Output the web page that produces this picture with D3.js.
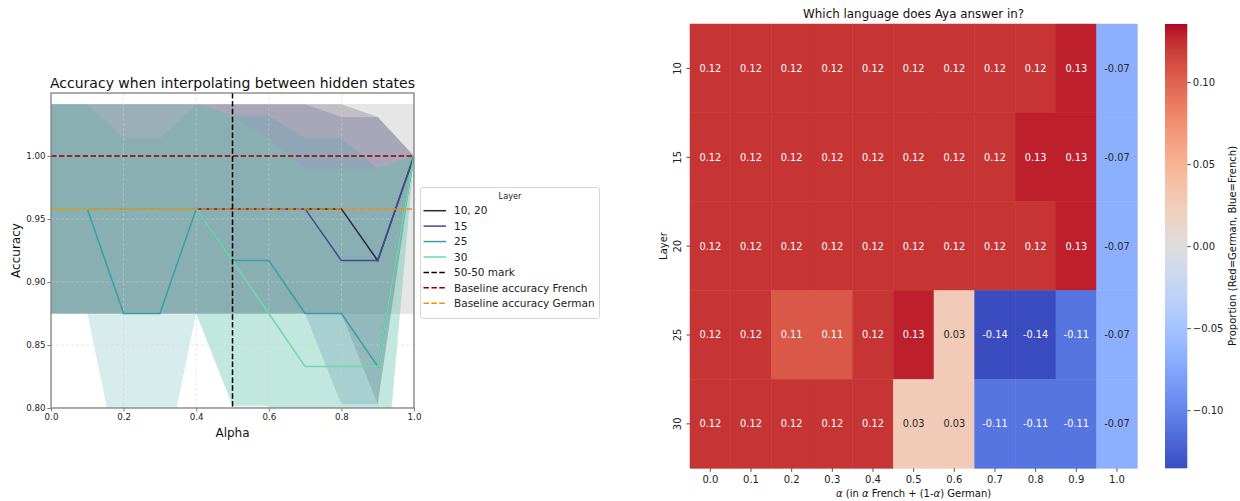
<!DOCTYPE html>
<html><head><meta charset="utf-8">
<script src="https://cdn.jsdelivr.net/npm/d3@7"></script>
<style>body{margin:0;background:#fff}svg{display:block;font-family:"DejaVu Sans",sans-serif}</style>
</head><body><svg id="c" width="1240" height="501"></svg>
<script>
// ---------- Left chart data ----------
const alphaVals = [0,0.1,0.2,0.3,0.4,0.5,0.6,0.7,0.8,0.9,1.0];
const xTicksLeft = [0,0.2,0.4,0.6,0.8,1.0];
const yTicksLeft = [0.80,0.85,0.90,0.95,1.00];
const seriesNames = ["10, 20","15","25","30"];
const seriesColors = ["#2c2343","#414c8e","#36a0a7","#70d8ab"];
const mean1020 = [0.958,0.958,0.958,0.958,0.958,0.958,0.958,0.958,0.958,0.917,1.0];
const std1020  = [0.083,0.083,0.083,0.083,0.083,0.083,0.083,0.083,0.083,0.114,0];
const mean15   = [0.958,0.958,0.958,0.958,0.958,0.958,0.958,0.958,0.917,0.917,1.0];
const std15    = [0.083,0.083,0.083,0.083,0.083,0.083,0.083,0.083,0.114,0.114,0];
const mean25   = [0.958,0.958,0.875,0.875,0.958,0.917,0.917,0.875,0.875,0.833,1.0];
const std25    = [0.083,0.083,0.139,0.139,0.083,0.115,0.115,0.139,0.139,0.157,0];
const mean30   = [0.958,0.958,0.958,0.958,0.958,0.917,0.875,0.833,0.833,0.833,1.0];
const std30    = [0.083,0.083,0.083,0.083,0.083,0.115,0.139,0.157,0.157,0.157,0];
const baselineFrench = 1.0;
const baselineGerman = 0.958;
const baselineGermanStd = 0.0833;
const midMark = 0.5;
const legendLabels = ["10, 20","15","25","30","50-50 mark","Baseline accuracy French","Baseline accuracy German"];

// ---------- Heatmap data ----------
const layers = ["10","15","20","25","30"];
const hmAlphas = ["0.0","0.1","0.2","0.3","0.4","0.5","0.6","0.7","0.8","0.9","1.0"];
const row10 = [0.122,0.122,0.122,0.122,0.122,0.122,0.122,0.122,0.122,0.129,-0.068];
const row15 = [0.122,0.122,0.122,0.122,0.122,0.122,0.122,0.122,0.129,0.129,-0.068];
const row20 = [0.122,0.122,0.122,0.122,0.122,0.122,0.122,0.122,0.122,0.129,-0.068];
const row25 = [0.122,0.122,0.106,0.106,0.122,0.129,0.026,-0.1354,-0.1354,-0.11,-0.068];
const row30 = [0.122,0.122,0.122,0.122,0.122,0.026,0.026,-0.11,-0.11,-0.11,-0.068];
const cbTicks = [0.10,0.05,0.00,-0.05,-0.10];

// coolwarm colormap (Moreland)
const cwT = d3.range(33).map(i=>i/32);
const cwC = ["#3b4cc0","#445acc","#4d68d7","#5775e1","#6282ea","#6c8ef1","#779af7","#82a5fb","#8db0fe","#98b9ff","#a3c2ff","#aec9fd","#b8d0f9","#c2d5f4","#ccd9ee","#d5dbe6","#dddddd","#e5d8d1","#ecd3c5","#f1ccb9","#f5c4ad","#f7bba0","#f7b194","#f7a687","#f49a7b","#f18d6f","#ec7f63","#e57058","#de604d","#d55042","#cb3e38","#c0282f","#b40426"];
const cw = d3.scaleLinear().domain(cwT).range(cwC).interpolate(d3.interpolateRgb).clamp(true);

const svg = d3.select("#c");

// ================= LEFT CHART =================
const xL = d3.scaleLinear([0,1],[51,414]);
const yL = d3.scaleLinear([0.8,1.05],[408,93]);
svg.append("defs").append("clipPath").attr("id","clipL").append("rect")
  .attr("x",51).attr("y",93).attr("width",363).attr("height",315);
const gL = svg.append("g");
const plot = gL.append("g").attr("clip-path","url(#clipL)");

// baseline German std band
plot.append("rect").attr("x",xL(0)).attr("width",xL(1)-xL(0))
  .attr("y",yL(baselineGerman+baselineGermanStd)).attr("height",yL(baselineGerman-baselineGermanStd)-yL(baselineGerman+baselineGermanStd))
  .attr("fill","#808080").attr("fill-opacity",0.2);

const series = [[mean1020,std1020],[mean15,std15],[mean25,std25],[mean30,std30]];
const area = d3.area().x(d=>xL(d.a)).y0(d=>yL(d.m-d.s)).y1(d=>yL(d.m+d.s));
series.forEach((s,i)=>{
  const data = alphaVals.map((a,j)=>({a,m:s[0][j],s:s[1][j]}));
  plot.append("path").datum(data).attr("d",area).attr("fill",seriesColors[i]).attr("fill-opacity",0.2);
});
// grid
xTicksLeft.forEach(t=>plot.append("line").attr("x1",xL(t)).attr("x2",xL(t)).attr("y1",93).attr("y2",408)
  .attr("stroke","#d0d0d0").attr("stroke-opacity",0.6).attr("stroke-width",0.8).attr("stroke-dasharray","3,2"));
yTicksLeft.forEach(t=>plot.append("line").attr("y1",yL(t)).attr("y2",yL(t)).attr("x1",51).attr("x2",414)
  .attr("stroke","#d0d0d0").attr("stroke-opacity",0.6).attr("stroke-width",0.8).attr("stroke-dasharray","3,2"));
// mean lines
const line = d3.line().x(d=>xL(d.a)).y(d=>yL(d.m));
series.forEach((s,i)=>{
  const data = alphaVals.map((a,j)=>({a,m:s[0][j]}));
  plot.append("path").datum(data).attr("d",line).attr("fill","none").attr("stroke",seriesColors[i]).attr("stroke-width",1.5);
});
// baselines
plot.append("line").attr("x1",51).attr("x2",414).attr("y1",yL(baselineFrench)).attr("y2",yL(baselineFrench))
  .attr("stroke","#8b0000").attr("stroke-width",1.5).attr("stroke-dasharray","5.5,2.4");
plot.append("line").attr("x1",51).attr("x2",414).attr("y1",yL(baselineGerman)).attr("y2",yL(baselineGerman))
  .attr("stroke","#ff8c00").attr("stroke-width",1.5).attr("stroke-dasharray","5.5,2.4");
plot.append("line").attr("x1",xL(midMark)).attr("x2",xL(midMark)).attr("y1",93).attr("y2",408)
  .attr("stroke","#000").attr("stroke-width",1.5).attr("stroke-dasharray","5.5,2.4");

// axes
const axB = gL.append("g").attr("transform","translate(0,408)")
  .call(d3.axisBottom(xL).tickValues(xTicksLeft).tickFormat(d3.format(".1f")).tickSizeOuter(0).tickSize(3.5));
const axLft = gL.append("g").attr("transform","translate(51,0)")
  .call(d3.axisLeft(yL).tickValues(yTicksLeft).tickFormat(d3.format(".2f")).tickSizeOuter(0).tickSize(3.5));
[axB,axLft].forEach(a=>{
  a.select(".domain").remove();
  a.selectAll(".tick line").attr("stroke","#808080").attr("stroke-width",1);
  a.selectAll(".tick text").attr("fill","#222").attr("font-size","8.7px").attr("font-family","DejaVu Sans");
});
axB.selectAll(".tick text").attr("dy","0.95em").attr("y",3.5);
axLft.selectAll(".tick text").attr("x",-5.5);
// frame
gL.append("rect").attr("x",51).attr("y",93).attr("width",363).attr("height",315)
  .attr("fill","none").attr("stroke","#808080").attr("stroke-width",1.3);

gL.append("text").attr("x",232.5).attr("y",88).attr("text-anchor","middle").attr("font-size","14px").attr("fill","#111")
  .text("Accuracy when interpolating between hidden states");
gL.append("text").attr("x",232.5).attr("y",436.5).attr("text-anchor","middle").attr("font-size","12px").attr("fill","#111").text("Alpha");
gL.append("text").attr("transform","translate(19.5,250.5) rotate(-90)").attr("text-anchor","middle").attr("font-size","12px").attr("fill","#111").text("Accuracy");

// legend
const lg = gL.append("g");
lg.append("rect").attr("x",420.5).attr("y",187.5).attr("width",179).attr("height",131).attr("rx",2.5)
  .attr("fill","#fff").attr("fill-opacity",0.8).attr("stroke","#cccccc").attr("stroke-width",0.8);
lg.append("text").attr("x",510).attr("y",199).attr("text-anchor","middle").attr("font-size","8.2px").attr("fill","#222").text("Layer");
const legColors = seriesColors.concat(["#000","#8b0000","#ff8c00"]);
legendLabels.forEach((lab,i)=>{
  const yy = 210.7 + i*15.43;
  lg.append("line").attr("x1",423.5).attr("x2",446).attr("y1",yy).attr("y2",yy)
    .attr("stroke",legColors[i]).attr("stroke-width",1.5).attr("stroke-dasharray", i>=4 ? "5.5,2.4" : null);
  lg.append("text").attr("x",454).attr("y",yy+3.7).attr("font-size","10.5px").attr("fill","#222").text(lab);
});

// ================= HEATMAP =================
const rows = [row10,row15,row20,row25,row30];
const vmax = 0.1354, vmin = -0.1354;
const col = v => cw((v - vmin)/(vmax - vmin));
const xH = d3.scaleBand().domain(hmAlphas).range([690,1137.3]);
const yH = d3.scaleBand().domain(layers).range([24,468.3]);
const gH = svg.append("g");
const fmt = v => d3.format(".2f")(v).replace("−","-");
rows.forEach((r,ri)=>{
  r.forEach((v,ci)=>{
    const c = col(v);
    gH.append("rect").attr("x",xH(hmAlphas[ci])).attr("y",yH(layers[ri]))
      .attr("width",xH.bandwidth()).attr("height",yH.bandwidth())
      .attr("fill",c).attr("stroke",c).attr("stroke-width",0.5);
  });
});
rows.forEach((r,ri)=>{
  r.forEach((v,ci)=>{
    const rgb = d3.rgb(col(v));
    const lin = ch=>{ch/=255;return ch<=0.03928?ch/12.92:Math.pow((ch+0.055)/1.055,2.4);};
    const lum = 0.2126*lin(rgb.r)+0.7152*lin(rgb.g)+0.0722*lin(rgb.b);
    gH.append("text").attr("x",xH(hmAlphas[ci])+xH.bandwidth()/2).attr("y",yH(layers[ri])+yH.bandwidth()/2)
      .attr("dy","0.35em").attr("text-anchor","middle").attr("font-size","9.8px")
      .attr("fill", lum>0.408 ? "#262626" : "#ffffff").text(fmt(v));
  });
});
const hB = gH.append("g").attr("transform","translate(0,468.3)").call(d3.axisBottom(xH).tickSize(3.5));
const hL = gH.append("g").attr("transform","translate(690,0)").call(d3.axisLeft(yH).tickSize(3.5));
[hB,hL].forEach(a=>{
  a.select(".domain").remove();
  a.selectAll(".tick line").attr("stroke","#222").attr("stroke-width",0.8);
  a.selectAll(".tick text").attr("fill","#222").attr("font-size","10px").attr("font-family","DejaVu Sans");
});
hB.selectAll(".tick text").attr("y",6).attr("dy","0.9em");
hL.selectAll(".tick text").attr("x",0).attr("dy",0).attr("text-anchor","middle")
  .attr("transform","translate(-9.5,0) rotate(-90)");
gH.append("text").attr("x",913.6).attr("y",18).attr("text-anchor","middle").attr("font-size","11.9px").attr("fill","#111")
  .text("Which language does Aya answer in?");
const xl = gH.append("text").attr("x",913.6).attr("y",497).attr("text-anchor","middle").attr("font-size","10px").attr("fill","#111");
xl.append("tspan").attr("font-style","italic").text("α");
xl.append("tspan").text(" (in ");
xl.append("tspan").attr("font-style","italic").text("α");
xl.append("tspan").text(" French + (1-");
xl.append("tspan").attr("font-style","italic").text("α");
xl.append("tspan").text(") German)");
gH.append("text").attr("transform","translate(667,246) rotate(-90)").attr("text-anchor","middle").attr("font-size","10px").attr("fill","#111").text("Layer");

// colorbar
const grad = svg.select("defs").append("linearGradient").attr("id","cwg").attr("x1",0).attr("x2",0).attr("y1",1).attr("y2",0);
cwT.forEach((t,i)=>grad.append("stop").attr("offset",t).attr("stop-color",cwC[i]));
const yC = d3.scaleLinear([vmin,vmax],[468.3,24]);
gH.append("rect").attr("x",1165).attr("y",24).attr("width",22.3).attr("height",444.3).attr("fill","url(#cwg)");
const cbA = gH.append("g").attr("transform","translate(1187.3,0)")
  .call(d3.axisRight(yC).tickValues(cbTicks).tickFormat(d=>d3.format(".2f")(d)).tickSize(3.5));
cbA.select(".domain").remove();
cbA.selectAll(".tick line").attr("stroke","#222").attr("stroke-width",0.8);
cbA.selectAll(".tick text").attr("fill","#222").attr("font-size","10px").attr("font-family","DejaVu Sans").attr("x",5.5);
gH.append("text").attr("transform","translate(1236,246) rotate(-90)").attr("text-anchor","middle").attr("font-size","10px").attr("fill","#111")
  .text("Proportion (Red=German, Blue=French)");
</script></body></html>
